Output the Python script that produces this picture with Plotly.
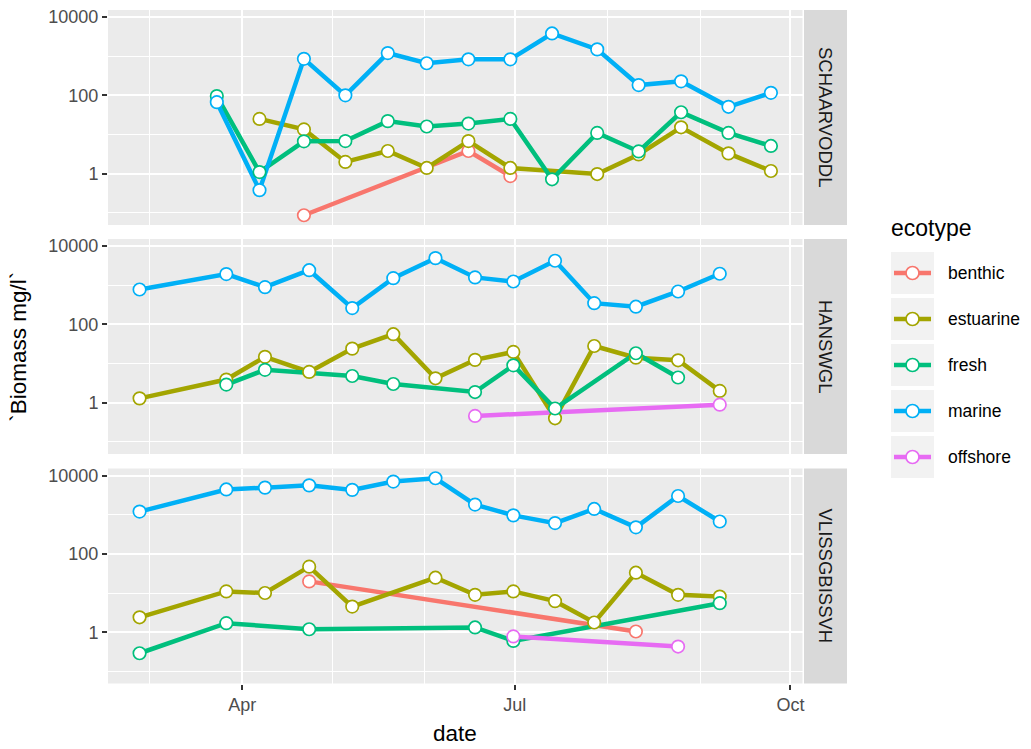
import math
from datetime import datetime, timedelta
import plotly.graph_objects as go

# ---------------- data ----------------
ecotypes = ["benthic", "estuarine", "fresh", "marine", "offshore"]
eco_colors = ["#F8766D", "#A3A500", "#00BF7D", "#00B0F6", "#E76BF3"]
stations = ["SCHAARVODDL", "HANSWGL", "VLISSGBISSVH"]

schaar_dates = ["2015-03-23 12:00", "2015-04-06 18:00", "2015-04-21 14:00", "2015-05-05 10:00",
                "2015-05-19 14:00", "2015-06-01 14:00", "2015-06-15 12:00", "2015-06-29 12:00",
                "2015-07-13 10:00", "2015-07-28 12:00", "2015-08-11 08:00", "2015-08-25 12:00",
                "2015-09-10 08:00", "2015-09-24 12:00"]
schaar_benthic = [None, None, 0.087, None, None, None, 3.8, 0.87, None, None, None, None, None, None]
schaar_estuarine = [None, 25, 13.5, 2.0, 3.8, 1.4, 6.8, 1.4, None, 0.98, 3.1, 15.3, 3.3, 1.17]
schaar_fresh = [96, 1.1, 6.7, 6.8, 22, 16, 19, 25, 0.72, 11, 3.7, 37, 11, 5.1]
schaar_marine = [67, 0.38, 855, 100, 1200, 660, 830, 830, 3800, 1490, 183, 228, 51, 116]
schaar_offshore = [None, None, None, None, None, None, None, None, None, None, None, None, None, None]

hans_dates = ["2015-02-25 17:00", "2015-03-26 16:00", "2015-04-08 14:00", "2015-04-23 08:00",
              "2015-05-07 17:00", "2015-05-21 10:00", "2015-06-04 12:00", "2015-06-17 17:00",
              "2015-06-30 12:00", "2015-07-14 10:00", "2015-07-27 12:00", "2015-08-10 10:00",
              "2015-08-24 12:00", "2015-09-07 10:00"]
hans_benthic = [None, None, None, None, None, None, None, None, None, None, None, None, None, None]
hans_estuarine = [1.29, 3.9, 14.8, 6.1, 24, 56, 4.2, 12.4, 19.8, 0.40, 28, 14.1, 12.1, 2.0]
hans_fresh = [None, 2.9, 6.9, None, 4.8, 3.0, None, 1.87, 9.0, 0.71, None, 18.3, 4.4, None]
hans_marine = [776, 1920, 890, 2410, 260, 1510, 4900, 1580, 1240, 4200, 347, 282, 690, 1960]
hans_offshore = [None, None, None, None, None, None, None, 0.46, None, None, None, None, None, 0.89]

vliss_dates = ["2015-02-25 17:00", "2015-03-26 16:00", "2015-04-08 14:00", "2015-04-23 08:00",
               "2015-05-07 17:00", "2015-05-21 10:00", "2015-06-04 12:00", "2015-06-17 17:00",
               "2015-06-30 12:00", "2015-07-14 10:00", "2015-07-27 12:00", "2015-08-10 10:00",
               "2015-08-24 12:00", "2015-09-07 10:00"]
vliss_benthic = [None, None, None, 19.8, None, None, None, None, None, None, None, 1.04, None, None]
vliss_estuarine = [2.4, 11, 10, 47, 4.5, None, 24.6, 9.0, 11, 6.2, 1.77, 33, 9.0, 8.1]
vliss_fresh = [0.29, 1.7, None, 1.19, None, None, None, 1.32, 0.60, None, None, None, None, 5.5]
vliss_marine = [1200, 4400, 4900, 5600, 4300, 7000, 8500, 1810, 960, 610, 1400, 475, 3000, 670]
vliss_offshore = [None, None, None, None, None, None, None, None, 0.78, None, None, None, 0.43, None]

x_tick_vals = ["2015-04-01", "2015-07-01", "2015-10-01"]
x_tick_text = ["Apr", "Jul", "Oct"]
x_minor_vals = ["2015-03-01", "2015-05-01", "2015-06-01", "2015-08-01", "2015-09-01"]
y_tick_vals = [1, 100, 10000]
y_tick_text = ["1", "100", "10000"]
y_minor_vals = [0.1, 10, 1000]

station_data = [
    (schaar_dates, [schaar_benthic, schaar_estuarine, schaar_fresh, schaar_marine, schaar_offshore]),
    (hans_dates, [hans_benthic, hans_estuarine, hans_fresh, hans_marine, hans_offshore]),
    (vliss_dates, [vliss_benthic, vliss_estuarine, vliss_fresh, vliss_marine, vliss_offshore]),
]

# ---------------- layout geometry (pixels) ----------------
W, H = 1031, 749
def fx(px):
    return px / W
def fy(py):
    return 1 - py / H

panel_left, panel_right = 108, 802.5
panel_tb = [(10, 225), (239, 454), (468.5, 683.5)]
strip_x0, strip_x1 = 804, 847

FONT = "Liberation Sans, Arial, Helvetica, sans-serif"
GRID = "white"

# ranges with ggplot-like 5% expansion
all_dates = [datetime.strptime(d, "%Y-%m-%d %H:%M") for dts, _ in station_data for d in dts]
dmin, dmax = min(all_dates), max(all_dates)
span = dmax - dmin
x_range = [(dmin - span * 0.05).strftime("%Y-%m-%d %H:%M:%S"),
           (dmax + span * 0.05).strftime("%Y-%m-%d %H:%M:%S")]
all_vals = [v for _, series in station_data for s in series for v in s if v is not None]
lmin, lmax = math.log10(min(all_vals)), math.log10(max(all_vals))
lspan = lmax - lmin
y_range = [lmin - 0.05 * lspan, lmax + 0.05 * lspan]

fig = go.Figure()

# lines first (all groups), then points on top
for p, (dates, series) in enumerate(station_data):
    ax = "" if p == 0 else str(p + 1)
    for eco, col, vals in zip(ecotypes, eco_colors, series):
        xs = [d for d, v in zip(dates, vals) if v is not None]
        ys = [v for v in vals if v is not None]
        if not ys:
            continue
        fig.add_trace(go.Scatter(x=xs, y=ys, mode="lines", xaxis="x" + ax, yaxis="y" + ax,
                                 line=dict(color=col, width=4.5), showlegend=False,
                                 hoverinfo="skip"))
for p, (dates, series) in enumerate(station_data):
    ax = "" if p == 0 else str(p + 1)
    for eco, col, vals in zip(ecotypes, eco_colors, series):
        xs = [d for d, v in zip(dates, vals) if v is not None]
        ys = [v for v in vals if v is not None]
        if not ys:
            continue
        fig.add_trace(go.Scatter(x=xs, y=ys, mode="markers", xaxis="x" + ax, yaxis="y" + ax,
                                 marker=dict(color="white", size=12.5,
                                             line=dict(color=col, width=1.7)),
                                 name=eco, showlegend=False))

layout = dict(
    width=W, height=H, autosize=False,
    margin=dict(l=0, r=0, t=0, b=0, autoexpand=False),
    paper_bgcolor="white", plot_bgcolor="#EBEBEB",
    font=dict(family=FONT, color="#4D4D4D"),
    showlegend=False,
)

for p in range(3):
    ax = "" if p == 0 else str(p + 1)
    top, bot = panel_tb[p]
    bottom_panel = (p == 2)
    layout["xaxis" + ax] = dict(
        type="date", domain=[fx(panel_left), fx(panel_right)], anchor="y" + ax,
        range=x_range, tickmode="array", tickvals=x_tick_vals, ticktext=x_tick_text,
        showgrid=True, gridcolor=GRID, gridwidth=2, zeroline=False, showline=False,
        ticks="outside" if bottom_panel else "", ticklen=5, tickwidth=1.6, tickcolor="#333333",
        showticklabels=bottom_panel, tickfont=dict(size=18, color="#4D4D4D", family=FONT),
        minor=dict(tickmode="array", tickvals=x_minor_vals, showgrid=True,
                   gridcolor=GRID, gridwidth=1, ticks=""),
        fixedrange=True,
    )
    layout["yaxis" + ax] = dict(
        type="log", domain=[fy(bot), fy(top)], anchor="x" + ax, range=y_range,
        tickmode="array", tickvals=y_tick_vals, ticktext=y_tick_text,
        showgrid=True, gridcolor=GRID, gridwidth=2, zeroline=False, showline=False,
        ticks="outside", ticklen=5, tickwidth=1.6, tickcolor="#333333",
        tickfont=dict(size=18, color="#4D4D4D", family=FONT),
        minor=dict(tickmode="array", tickvals=y_minor_vals, showgrid=True,
                   gridcolor=GRID, gridwidth=1, ticks=""),
        fixedrange=True,
    )

shapes = []
annotations = []
# facet strips
for p, name in enumerate(stations):
    top, bot = panel_tb[p]
    shapes.append(dict(type="rect", xref="paper", yref="paper",
                       x0=fx(strip_x0), x1=fx(strip_x1), y0=fy(bot), y1=fy(top),
                       fillcolor="#D9D9D9", line=dict(width=0), layer="below"))
    annotations.append(dict(text=name, xref="paper", yref="paper",
                            x=fx((strip_x0 + strip_x1) / 2), y=fy((top + bot) / 2),
                            xanchor="center", yanchor="middle", textangle=90, showarrow=False,
                            font=dict(size=18.5, color="#1A1A1A", family=FONT)))

# axis titles
annotations.append(dict(text="date", xref="paper", yref="paper",
                        x=fx((panel_left + panel_right) / 2), y=fy(733),
                        xanchor="center", yanchor="middle", showarrow=False,
                        font=dict(size=22.5, color="black", family=FONT)))
annotations.append(dict(text="`Biomass mg/l`", xref="paper", yref="paper",
                        x=fx(19), y=fy((panel_tb[0][0] + panel_tb[2][1]) / 2),
                        xanchor="center", yanchor="middle", textangle=-90, showarrow=False,
                        font=dict(size=22.5, color="black", family=FONT)))

# legend (ggplot style)
annotations.append(dict(text="ecotype", xref="paper", yref="paper",
                        x=fx(889), y=fy(228), xanchor="left", yanchor="middle",
                        showarrow=False, font=dict(size=23, color="black", family=FONT)))
key_x0, key_x1 = 891, 934
key_h, key_step, key_top0 = 42, 46, 252
r = 6.5
for i, (eco, col) in enumerate(zip(ecotypes, eco_colors)):
    t = key_top0 + i * key_step
    cy = t + key_h / 2
    cx = (key_x0 + key_x1) / 2
    shapes.append(dict(type="rect", xref="paper", yref="paper",
                       x0=fx(key_x0), x1=fx(key_x1), y0=fy(t + key_h), y1=fy(t),
                       fillcolor="#F2F2F2", line=dict(width=0)))
    shapes.append(dict(type="line", xref="paper", yref="paper",
                       x0=fx(key_x0 + 3), x1=fx(key_x1 - 3), y0=fy(cy), y1=fy(cy),
                       line=dict(color=col, width=4.5)))
    shapes.append(dict(type="circle", xref="paper", yref="paper",
                       x0=fx(cx - r), x1=fx(cx + r), y0=fy(cy + r), y1=fy(cy - r),
                       fillcolor="white", line=dict(color=col, width=1.7)))
    annotations.append(dict(text=eco, xref="paper", yref="paper",
                            x=fx(946), y=fy(cy), xanchor="left", yanchor="middle",
                            showarrow=False, font=dict(size=17.5, color="black", family=FONT)))

layout["shapes"] = shapes
layout["annotations"] = annotations
fig.update_layout(**layout)

fig.write_html("out.html")
